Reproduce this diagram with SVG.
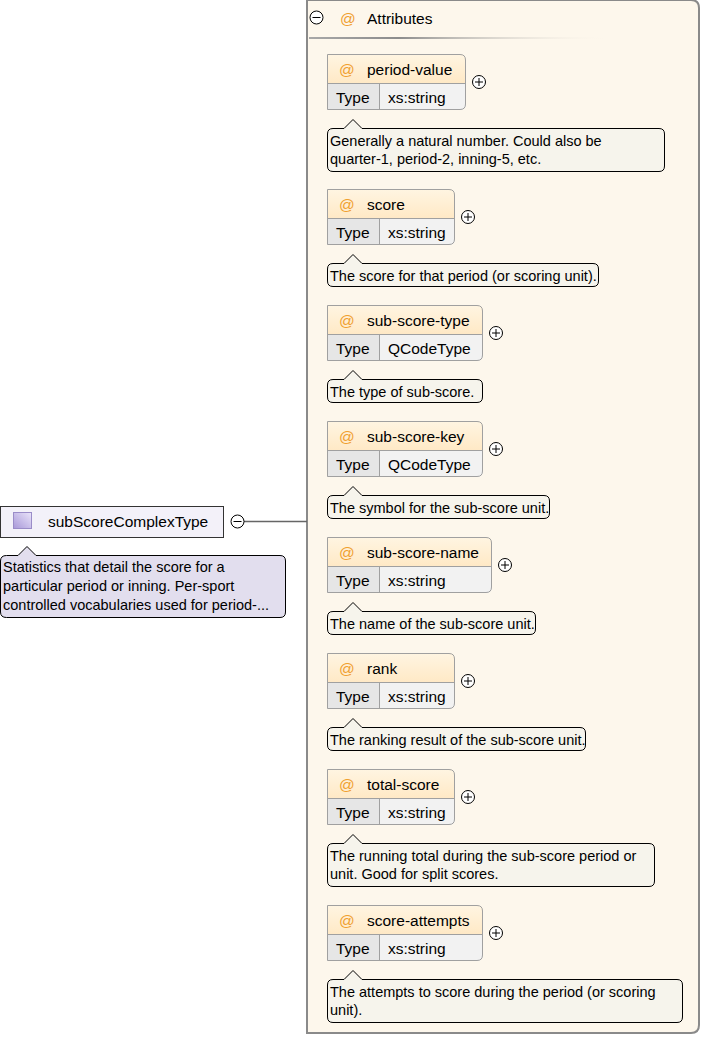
<svg xmlns="http://www.w3.org/2000/svg" width="702" height="1037" viewBox="0 0 702 1037">
<defs>
<linearGradient id="hdr" x1="0" y1="0" x2="0" y2="1"><stop offset="0" stop-color="#FFF5E2"/><stop offset="1" stop-color="#FFE9C6"/></linearGradient>
<linearGradient id="sep" x1="0" y1="0" x2="1" y2="0"><stop offset="0" stop-color="#A8A8A8"/><stop offset="0.3" stop-color="#8C8C8C"/><stop offset="1" stop-color="#FDF7EC" stop-opacity="0"/></linearGradient>
<linearGradient id="ico" x1="1" y1="0" x2="0" y2="1"><stop offset="0" stop-color="#EAE4FA"/><stop offset="1" stop-color="#A898D8"/></linearGradient>
<style>
text{font-family:"Liberation Sans",Arial,sans-serif;fill:#000}
.lbl{font-size:15.5px}
.at{font-size:15.5px;fill:#F0A030}
.ann{font-size:14.5px}
.hdr{fill:url(#hdr)}
.tcell{fill:#E6E6E6}
.vcell{fill:#F2F2F2}
.out{fill:none;stroke:#A0A0A0;stroke-width:1}
.div{fill:none;stroke:#A0A0A0;stroke-width:1}
.anb{fill:#F6F4EC;stroke:#000;stroke-width:1}
.btn{fill:#FFFFFF;stroke:#000;stroke-width:1}
.btl{stroke:#000;stroke-width:1;fill:none}
</style>
</defs>

<g id="attributes-container">
<path d="M307,0 H691 Q699,0 699,8 V1025 Q699,1033 691,1033 H307 Z" fill="#FDF7EC"/>
<path d="M307,0 V1033 H691 Q699,1033 699,1025 V8 Q699,0 691,0 H307" fill="none" stroke="#8A8A8A" stroke-width="2"/>
<circle class="btn" cx="316.5" cy="17.5" r="6.5"/>
<path class="btl" d="M312.5,17.5 H320.5"/>
<text class="at" x="340" y="24">@</text>
<text class="lbl" x="367" y="24">Attributes</text>
<rect x="309" y="37" width="300" height="2" fill="url(#sep)"/>
</g>

<g id="connectors">
<path d="M244,521.5 H307" fill="none" stroke="#666" stroke-width="1.5"/>
</g>

<g id="subScoreComplexType">
<rect x="0.5" y="506.5" width="223" height="31" fill="#F3F1F9" stroke="#333" stroke-width="1"/>
<rect x="13.5" y="512.5" width="18" height="16" fill="url(#ico)" stroke="#9A8CC8" stroke-width="1"/>
<text class="lbl" x="48" y="527">subScoreComplexType</text>
<circle class="btn" cx="237.5" cy="521.5" r="6.5"/>
<path class="btl" d="M233.5,521.5 H241.5"/>
<path d="M6.5,555.5 H18 L27,546.5 L36,555.5 H280 Q285.5,555.5 285.5,561 V612 Q285.5,617.5 280,617.5 H6.5 Q0.5,617.5 0.5,612 V561 Q0.5,555.5 6.5,555.5 Z" fill="#E2DEEE" stroke="#000" stroke-width="1"/>
<text class="ann" x="3" y="572">Statistics that detail the score for a</text>
<text class="ann" x="3" y="591">particular period or inning. Per-sport</text>
<text class="ann" x="3" y="610">controlled vocabularies used for period-...</text>
</g>

<g id="period-value" transform="translate(327,54)">
<path class="hdr" d="M0,0 H133 Q139,0 139,6 V29 H0 Z"/>
<rect class="tcell" x="0" y="29" width="52" height="27"/>
<path class="vcell" d="M52,29 H139 V50 Q139,56 133,56 H52 Z"/>
<path class="div" d="M0,29.5 H139 M52.5,29 V56"/>
<path class="out" d="M0.5,0.5 H133 Q138.5,0.5 138.5,6 V50 Q138.5,55.5 133,55.5 H0.5 Z"/>
<text class="at" x="12" y="21">@</text><text class="lbl" x="40" y="21">period-value</text>
<text class="lbl" x="9" y="49">Type</text><text class="lbl" x="61" y="49">xs:string</text>
<circle class="btn" cx="152" cy="28" r="6.5"/><path class="btl" d="M148,28 H156 M152,24 V32"/>
<path class="anb" d="M6,74.5 H17 L26,65.5 L35,74.5 H332 Q337.5,74.5 337.5,80 V112 Q337.5,117.5 332,117.5 H6 Q0.5,117.5 0.5,112 V80 Q0.5,74.5 6,74.5 Z"/>
<text class="ann" x="3" y="92">Generally a natural number. Could also be</text>
<text class="ann" x="3" y="110">quarter-1, period-2, inning-5, etc.</text>
</g>

<g id="score" transform="translate(327,189)">
<path class="hdr" d="M0,0 H122 Q128,0 128,6 V29 H0 Z"/>
<rect class="tcell" x="0" y="29" width="52" height="27"/>
<path class="vcell" d="M52,29 H128 V50 Q128,56 122,56 H52 Z"/>
<path class="div" d="M0,29.5 H128 M52.5,29 V56"/>
<path class="out" d="M0.5,0.5 H122 Q127.5,0.5 127.5,6 V50 Q127.5,55.5 122,55.5 H0.5 Z"/>
<text class="at" x="12" y="21">@</text><text class="lbl" x="40" y="21">score</text>
<text class="lbl" x="9" y="49">Type</text><text class="lbl" x="61" y="49">xs:string</text>
<circle class="btn" cx="141" cy="28" r="6.5"/><path class="btl" d="M137,28 H145 M141,24 V32"/>
<path class="anb" d="M6,74.5 H17 L26,65.5 L35,74.5 H266 Q271.5,74.5 271.5,80 V92 Q271.5,97.5 266,97.5 H6 Q0.5,97.5 0.5,92 V80 Q0.5,74.5 6,74.5 Z"/>
<text class="ann" x="3" y="92">The score for that period (or scoring unit).</text>
</g>

<g id="sub-score-type" transform="translate(327,305)">
<path class="hdr" d="M0,0 H150 Q156,0 156,6 V29 H0 Z"/>
<rect class="tcell" x="0" y="29" width="52" height="27"/>
<path class="vcell" d="M52,29 H156 V50 Q156,56 150,56 H52 Z"/>
<path class="div" d="M0,29.5 H156 M52.5,29 V56"/>
<path class="out" d="M0.5,0.5 H150 Q155.5,0.5 155.5,6 V50 Q155.5,55.5 150,55.5 H0.5 Z"/>
<text class="at" x="12" y="21">@</text><text class="lbl" x="40" y="21">sub-score-type</text>
<text class="lbl" x="9" y="49">Type</text><text class="lbl" x="61" y="49">QCodeType</text>
<circle class="btn" cx="169" cy="28" r="6.5"/><path class="btl" d="M165,28 H173 M169,24 V32"/>
<path class="anb" d="M6,74.5 H17 L26,65.5 L35,74.5 H150 Q155.5,74.5 155.5,80 V92 Q155.5,97.5 150,97.5 H6 Q0.5,97.5 0.5,92 V80 Q0.5,74.5 6,74.5 Z"/>
<text class="ann" x="3" y="92">The type of sub-score.</text>
</g>

<g id="sub-score-key" transform="translate(327,421)">
<path class="hdr" d="M0,0 H150 Q156,0 156,6 V29 H0 Z"/>
<rect class="tcell" x="0" y="29" width="52" height="27"/>
<path class="vcell" d="M52,29 H156 V50 Q156,56 150,56 H52 Z"/>
<path class="div" d="M0,29.5 H156 M52.5,29 V56"/>
<path class="out" d="M0.5,0.5 H150 Q155.5,0.5 155.5,6 V50 Q155.5,55.5 150,55.5 H0.5 Z"/>
<text class="at" x="12" y="21">@</text><text class="lbl" x="40" y="21">sub-score-key</text>
<text class="lbl" x="9" y="49">Type</text><text class="lbl" x="61" y="49">QCodeType</text>
<circle class="btn" cx="169" cy="28" r="6.5"/><path class="btl" d="M165,28 H173 M169,24 V32"/>
<path class="anb" d="M6,74.5 H17 L26,65.5 L35,74.5 H217 Q222.5,74.5 222.5,80 V92 Q222.5,97.5 217,97.5 H6 Q0.5,97.5 0.5,92 V80 Q0.5,74.5 6,74.5 Z"/>
<text class="ann" x="3" y="92">The symbol for the sub-score unit.</text>
</g>

<g id="sub-score-name" transform="translate(327,537)">
<path class="hdr" d="M0,0 H159 Q165,0 165,6 V29 H0 Z"/>
<rect class="tcell" x="0" y="29" width="52" height="27"/>
<path class="vcell" d="M52,29 H165 V50 Q165,56 159,56 H52 Z"/>
<path class="div" d="M0,29.5 H165 M52.5,29 V56"/>
<path class="out" d="M0.5,0.5 H159 Q164.5,0.5 164.5,6 V50 Q164.5,55.5 159,55.5 H0.5 Z"/>
<text class="at" x="12" y="21">@</text><text class="lbl" x="40" y="21">sub-score-name</text>
<text class="lbl" x="9" y="49">Type</text><text class="lbl" x="61" y="49">xs:string</text>
<circle class="btn" cx="178" cy="28" r="6.5"/><path class="btl" d="M174,28 H182 M178,24 V32"/>
<path class="anb" d="M6,74.5 H17 L26,65.5 L35,74.5 H203 Q208.5,74.5 208.5,80 V92 Q208.5,97.5 203,97.5 H6 Q0.5,97.5 0.5,92 V80 Q0.5,74.5 6,74.5 Z"/>
<text class="ann" x="3" y="92">The name of the sub-score unit.</text>
</g>

<g id="rank" transform="translate(327,653)">
<path class="hdr" d="M0,0 H122 Q128,0 128,6 V29 H0 Z"/>
<rect class="tcell" x="0" y="29" width="52" height="27"/>
<path class="vcell" d="M52,29 H128 V50 Q128,56 122,56 H52 Z"/>
<path class="div" d="M0,29.5 H128 M52.5,29 V56"/>
<path class="out" d="M0.5,0.5 H122 Q127.5,0.5 127.5,6 V50 Q127.5,55.5 122,55.5 H0.5 Z"/>
<text class="at" x="12" y="21">@</text><text class="lbl" x="40" y="21">rank</text>
<text class="lbl" x="9" y="49">Type</text><text class="lbl" x="61" y="49">xs:string</text>
<circle class="btn" cx="141" cy="28" r="6.5"/><path class="btl" d="M137,28 H145 M141,24 V32"/>
<path class="anb" d="M6,74.5 H17 L26,65.5 L35,74.5 H253 Q258.5,74.5 258.5,80 V92 Q258.5,97.5 253,97.5 H6 Q0.5,97.5 0.5,92 V80 Q0.5,74.5 6,74.5 Z"/>
<text class="ann" x="3" y="92">The ranking result of the sub-score unit.</text>
</g>

<g id="total-score" transform="translate(327,769)">
<path class="hdr" d="M0,0 H122 Q128,0 128,6 V29 H0 Z"/>
<rect class="tcell" x="0" y="29" width="52" height="27"/>
<path class="vcell" d="M52,29 H128 V50 Q128,56 122,56 H52 Z"/>
<path class="div" d="M0,29.5 H128 M52.5,29 V56"/>
<path class="out" d="M0.5,0.5 H122 Q127.5,0.5 127.5,6 V50 Q127.5,55.5 122,55.5 H0.5 Z"/>
<text class="at" x="12" y="21">@</text><text class="lbl" x="40" y="21">total-score</text>
<text class="lbl" x="9" y="49">Type</text><text class="lbl" x="61" y="49">xs:string</text>
<circle class="btn" cx="141" cy="28" r="6.5"/><path class="btl" d="M137,28 H145 M141,24 V32"/>
<path class="anb" d="M6,74.5 H17 L26,65.5 L35,74.5 H322 Q327.5,74.5 327.5,80 V112 Q327.5,117.5 322,117.5 H6 Q0.5,117.5 0.5,112 V80 Q0.5,74.5 6,74.5 Z"/>
<text class="ann" x="3" y="92">The running total during the sub-score period or</text>
<text class="ann" x="3" y="110">unit. Good for split scores.</text>
</g>

<g id="score-attempts" transform="translate(327,905)">
<path class="hdr" d="M0,0 H150 Q156,0 156,6 V29 H0 Z"/>
<rect class="tcell" x="0" y="29" width="52" height="27"/>
<path class="vcell" d="M52,29 H156 V50 Q156,56 150,56 H52 Z"/>
<path class="div" d="M0,29.5 H156 M52.5,29 V56"/>
<path class="out" d="M0.5,0.5 H150 Q155.5,0.5 155.5,6 V50 Q155.5,55.5 150,55.5 H0.5 Z"/>
<text class="at" x="12" y="21">@</text><text class="lbl" x="40" y="21">score-attempts</text>
<text class="lbl" x="9" y="49">Type</text><text class="lbl" x="61" y="49">xs:string</text>
<circle class="btn" cx="169" cy="28" r="6.5"/><path class="btl" d="M165,28 H173 M169,24 V32"/>
<path class="anb" d="M6,74.5 H17 L26,65.5 L35,74.5 H350 Q355.5,74.5 355.5,80 V112 Q355.5,117.5 350,117.5 H6 Q0.5,117.5 0.5,112 V80 Q0.5,74.5 6,74.5 Z"/>
<text class="ann" x="3" y="92">The attempts to score during the period (or scoring</text>
<text class="ann" x="3" y="110">unit).</text>
</g>
</svg>
